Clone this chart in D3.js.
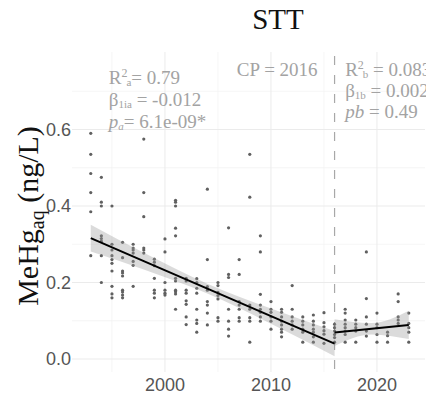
<!DOCTYPE html>
<html>
<head>
<meta charset="utf-8">
<script src="https://cdn.jsdelivr.net/npm/d3@7"></script>
<style>
  body { margin: 0; background: #fff; }
  svg { display: block; }
</style>
</head>
<body>
<div id="chart"></div>
<script>
// sampling years and MeHg_aq values (ng/L) per year
const sampleYears = [1993, 1994, 1995, 1996, 1997, 1998, 1999, 2000, 2001, 2002, 2003, 2004, 2005, 2006, 2007, 2008,
  2009, 2010, 2011, 2012, 2013, 2014, 2015, 2016, 2017, 2018, 2019, 2020, 2021, 2022, 2023];
const sampleValues = [
  [0.59, 0.535, 0.485, 0.435, 0.385, 0.27],
  [0.475, 0.41, 0.40, 0.322, 0.315, 0.308, 0.27, 0.20],
  [0.40, 0.30, 0.285, 0.27, 0.26, 0.25, 0.23, 0.19, 0.17, 0.16],
  [0.305, 0.265, 0.23, 0.225, 0.217, 0.18, 0.175, 0.167, 0.16],
  [0.30, 0.29, 0.285, 0.277, 0.255, 0.245, 0.19],
  [0.575, 0.435, 0.372, 0.29, 0.285, 0.277],
  [0.261, 0.253, 0.244, 0.211, 0.18, 0.172, 0.16],
  [0.314, 0.28, 0.20, 0.18, 0.172, 0.167],
  [0.415, 0.41, 0.40, 0.342, 0.322, 0.211, 0.204, 0.18, 0.176, 0.17, 0.13],
  [0.211, 0.204, 0.18, 0.172, 0.152, 0.143, 0.11, 0.09],
  [0.21, 0.2, 0.185, 0.172, 0.13, 0.102, 0.093, 0.07],
  [0.444, 0.26, 0.189, 0.18, 0.15, 0.141, 0.12, 0.089],
  [0.2, 0.192, 0.174, 0.166, 0.157, 0.108, 0.099],
  [0.343, 0.221, 0.213, 0.13, 0.099, 0.078, 0.06],
  [0.26, 0.221, 0.15, 0.141, 0.13, 0.108, 0.099],
  [0.535, 0.423, 0.141, 0.13, 0.108, 0.099, 0.044],
  [0.322, 0.28, 0.169, 0.141, 0.13, 0.122, 0.11, 0.099],
  [0.15, 0.13, 0.122, 0.11, 0.099, 0.078],
  [0.13, 0.122, 0.11, 0.099, 0.089, 0.078, 0.07, 0.058],
  [0.192, 0.13, 0.11, 0.099, 0.089, 0.078],
  [0.11, 0.099, 0.089, 0.078, 0.07, 0.044],
  [0.115, 0.099, 0.089, 0.078, 0.07, 0.058, 0.044],
  [0.121, 0.095, 0.084, 0.074, 0.065, 0.041],
  [0.091, 0.082, 0.073, 0.064, 0.056, 0.044],
  [0.13, 0.12, 0.102, 0.091, 0.082, 0.073, 0.064, 0.044],
  [0.102, 0.091, 0.082, 0.073, 0.044],
  [0.28, 0.158, 0.11, 0.091, 0.073, 0.06],
  [0.12, 0.091, 0.082, 0.064, 0.044],
  [0.07, 0.061, 0.044],
  [0.17, 0.15, 0.11, 0.102, 0.093],
  [0.12, 0.093, 0.082, 0.07, 0.044]
];

// segmented fit, before and after the change point
const changePoint = 2016;
const fitAYears = [1993, 1998, 2004, 2010, 2016];
const fitAValues = [0.316, 0.256, 0.184, 0.112, 0.04];
const fitALower = [0.281, 0.234, 0.171, 0.092, 0.007];
const fitAUpper = [0.351, 0.278, 0.197, 0.132, 0.073];
const fitBYears = [2016, 2019.5, 2023];
const fitBValues = [0.069, 0.079, 0.089];
const fitBLower = [0.034, 0.064, 0.052];
const fitBUpper = [0.104, 0.094, 0.126];

const yTicks = [0.0, 0.2, 0.4, 0.6];
const yMinor = [0.1, 0.3, 0.5, 0.7];
const xTicks = [2000, 2010, 2020];
const xMinor = [1995, 2005, 2015];

const W = 426, H = 394;
const margin = { top: 52, right: 1, bottom: 22, left: 72 };
const serif = "'Liberation Serif', 'Times New Roman', serif";
const sans = "'Liberation Sans', Arial, sans-serif";

const svg = d3.select("#chart").append("svg")
  .attr("width", W)
  .attr("height", H);

const x = d3.scaleLinear()
  .domain([1991.23, 2024.53])
  .range([margin.left, W - margin.right]);
const y = d3.scaleLinear()
  .domain([-0.034, 0.8026])
  .range([H - margin.bottom, margin.top]);

// grid
const grid = svg.append("g");
grid.selectAll(".ymin").data(yMinor).enter().append("line")
  .attr("x1", x.range()[0]).attr("x2", x.range()[1])
  .attr("y1", d => y(d)).attr("y2", d => y(d))
  .attr("stroke", "#f3f3f3").attr("stroke-width", 0.8);
grid.selectAll(".xmin").data(xMinor).enter().append("line")
  .attr("y1", y.range()[0]).attr("y2", y.range()[1])
  .attr("x1", d => x(d)).attr("x2", d => x(d))
  .attr("stroke", "#f3f3f3").attr("stroke-width", 0.8);
grid.selectAll(".ymaj").data(yTicks).enter().append("line")
  .attr("x1", x.range()[0]).attr("x2", x.range()[1])
  .attr("y1", d => y(d)).attr("y2", d => y(d))
  .attr("stroke", "#ebebeb").attr("stroke-width", 1);
grid.selectAll(".xmaj").data(xTicks).enter().append("line")
  .attr("y1", y.range()[0]).attr("y2", y.range()[1])
  .attr("x1", d => x(d)).attr("x2", d => x(d))
  .attr("stroke", "#ebebeb").attr("stroke-width", 1);

// tick labels
svg.append("g").selectAll("text").data(yTicks).enter().append("text")
  .attr("x", margin.left - 1)
  .attr("y", d => y(d) + 6.5)
  .attr("text-anchor", "end")
  .attr("font-family", sans).attr("font-size", 18).attr("fill", "#555")
  .text(d => d3.format(".1f")(d));
svg.append("g").selectAll("text").data(xTicks).enter().append("text")
  .attr("x", d => x(d))
  .attr("y", H - 3)
  .attr("text-anchor", "middle")
  .attr("font-family", sans).attr("font-size", 18).attr("fill", "#555")
  .text(d => d);

// change point
svg.append("line")
  .attr("x1", x(changePoint)).attr("x2", x(changePoint))
  .attr("y1", y.range()[1] + 4).attr("y2", y.range()[0])
  .attr("stroke", "#a8a8a8").attr("stroke-width", 1.2)
  .attr("stroke-dasharray", "9,10");

// points
const points = [];
sampleYears.forEach((yr, i) => sampleValues[i].forEach(v => points.push({ yr, v })));
svg.append("g").selectAll("circle").data(points).enter().append("circle")
  .attr("cx", d => x(d.yr))
  .attr("cy", d => y(d.v))
  .attr("r", 1.6)
  .attr("fill", "#606060");

// confidence bands and fitted lines
function segment(years, vals, lo, hi) {
  const rows = years.map((yr, i) => ({ yr, v: vals[i], lo: lo[i], hi: hi[i] }));
  svg.append("path").datum(rows)
    .attr("d", d3.area().curve(d3.curveMonotoneX)
      .x(d => x(d.yr)).y0(d => y(d.lo)).y1(d => y(d.hi)))
    .attr("fill", "#999").attr("fill-opacity", 0.35);
  svg.append("path").datum(rows)
    .attr("d", d3.line().x(d => x(d.yr)).y(d => y(d.v)))
    .attr("fill", "none").attr("stroke", "#000").attr("stroke-width", 2);
}
segment(fitAYears, fitAValues, fitALower, fitAUpper);
segment(fitBYears, fitBValues, fitBLower, fitBUpper);

// title
svg.append("text")
  .attr("x", 278).attr("y", 29)
  .attr("text-anchor", "middle")
  .attr("font-family", serif).attr("font-size", 29).attr("fill", "#111")
  .text("STT");

// y axis label
const yl = svg.append("text")
  .attr("transform", `translate(38,${(y.range()[0] + y.range()[1]) / 2 + 4}) rotate(-90)`)
  .attr("text-anchor", "middle")
  .attr("font-family", serif).attr("font-size", 30).attr("fill", "#111");
yl.append("tspan").text("MeHg");
yl.append("tspan").attr("font-size", 20).attr("dy", 6).text("aq");
yl.append("tspan").attr("dy", -6).text(" (ng/L)");

// annotations
const note = { "font-family": serif, "font-size": 19, fill: "#a3a3a3" };
function addText(px, py) {
  const t = svg.append("text").attr("x", px).attr("y", py);
  Object.entries(note).forEach(([k, v]) => t.attr(k, v));
  return t;
}
let t = addText(x(1994.7), y(0.719));
t.append("tspan").text("R");
t.append("tspan").attr("font-size", 12).attr("dy", -7).text("2");
t.append("tspan").attr("font-size", 11).attr("dy", 9).attr("dx", -1).text("a");
t.append("tspan").attr("dy", -2).text("= 0.79");
t = addText(x(1994.7), y(0.661));
t.append("tspan").text("β");
t.append("tspan").attr("font-size", 11).attr("dy", 2).text("1ia");
t.append("tspan").attr("dy", -2).text(" = -0.012");
t = addText(x(1994.7), y(0.603));
t.append("tspan").attr("font-style", "italic").text("p");
t.append("tspan").attr("font-size", 11).attr("font-style", "italic").attr("dy", 2).text("a");
t.append("tspan").attr("dy", -2).text("= 6.1e-09*");

addText(x(2014.4), y(0.74)).attr("text-anchor", "end").text("CP = 2016");

t = addText(x(2017), y(0.74));
t.append("tspan").text("R");
t.append("tspan").attr("font-size", 12).attr("dy", -7).text("2");
t.append("tspan").attr("font-size", 11).attr("dy", 9).attr("dx", -1).text("b");
t.append("tspan").attr("dy", -2).text(" = 0.083");
t = addText(x(2017), y(0.685));
t.append("tspan").text("β");
t.append("tspan").attr("font-size", 11).attr("dy", 2).text("1b");
t.append("tspan").attr("dy", -2).text(" = 0.002");
t = addText(x(2017), y(0.63));
t.append("tspan").attr("font-style", "italic").text("pb");
t.append("tspan").text(" = 0.49");
</script>
</body>
</html>
